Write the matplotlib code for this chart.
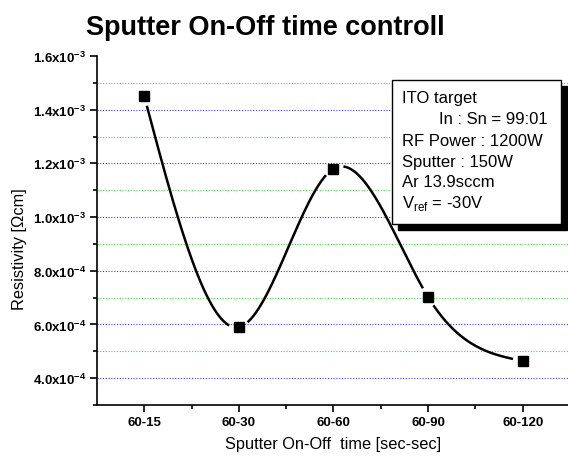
import numpy as np
import matplotlib
matplotlib.use('Agg')
import matplotlib.pyplot as plt
from matplotlib.patches import Rectangle
from matplotlib.ticker import MultipleLocator, FixedLocator

plt.rcParams['font.family'] = ['Liberation Sans', 'DejaVu Sans']
plt.rcParams['mathtext.fontset'] = 'custom'
plt.rcParams['mathtext.rm'] = 'Liberation Sans'
plt.rcParams['mathtext.bf'] = 'Liberation Sans:bold'

# data
categories = ['60-15', '60-30', '60-60', '60-90', '60-120']
resistivity = [1.45e-3, 5.9e-4, 1.18e-3, 7.02e-4, 4.64e-4]
ytick_vals = [4e-4, 6e-4, 8e-4, 1.0e-3, 1.2e-3, 1.4e-3, 1.6e-3]
ytick_labels = [r'$\mathbf{4.0x10^{-4}}$', r'$\mathbf{6.0x10^{-4}}$', r'$\mathbf{8.0x10^{-4}}$',
                r'$\mathbf{1.0x10^{-3}}$', r'$\mathbf{1.2x10^{-3}}$', r'$\mathbf{1.4x10^{-3}}$',
                r'$\mathbf{1.6x10^{-3}}$']
blue_grid = [4e-4, 6e-4, 8e-4, 1.0e-3, 1.2e-3, 1.4e-3]
green_grid = [5e-4, 7e-4, 9e-4, 1.1e-3, 1.3e-3, 1.5e-3]
info_lines = ['ITO target', '        In : Sn = 99:01', 'RF Power : 1200W',
              'Sputter : 150W', 'Ar 13.9sccm', r'V$_{\rm ref}$ = -30V']


def natural_spline(x, y, xs):
    x = np.asarray(x, float)
    y = np.asarray(y, float)
    n = len(x)
    h = np.diff(x)
    A = np.zeros((n, n))
    b = np.zeros(n)
    A[0, 0] = 1
    A[-1, -1] = 1
    for i in range(1, n - 1):
        A[i, i - 1] = h[i - 1]
        A[i, i] = 2 * (h[i - 1] + h[i])
        A[i, i + 1] = h[i]
        b[i] = 3 * ((y[i + 1] - y[i]) / h[i] - (y[i] - y[i - 1]) / h[i - 1])
    c = np.linalg.solve(A, b)
    out = np.empty_like(xs)
    for k, xv in enumerate(xs):
        i = min(max(np.searchsorted(x, xv) - 1, 0), n - 2)
        dx = xv - x[i]
        bi = (y[i + 1] - y[i]) / h[i] - h[i] * (2 * c[i] + c[i + 1]) / 3
        di = (c[i + 1] - c[i]) / (3 * h[i])
        out[k] = y[i] + bi * dx + c[i] * dx ** 2 + di * dx ** 3
    return out


fig = plt.figure(figsize=(5.68, 4.6), dpi=100)
ax = fig.add_axes([97 / 568, 54 / 460, 473 / 568, 349 / 460])

xpos = np.arange(1, len(categories) + 1)
ax.set_xlim(0.5, 5.5)
ax.set_ylim(3e-4, 1.6e-3)

for g in blue_grid:
    ax.axhline(g, color='#4040ff', lw=0.8, ls=(0, (1, 1.5)), zorder=1)
for g in green_grid:
    ax.axhline(g, color='#40e040', lw=0.8, ls=(0, (1, 1.5)), zorder=1)

# smooth line with small gaps near the markers
xs = np.linspace(xpos[0], xpos[-1], 800)
ys = natural_spline(xpos, resistivity, xs)
pts = ax.transData.transform(np.column_stack([xs, ys]))
mk = ax.transData.transform(np.column_stack([xpos, resistivity]))
d = np.min(np.hypot(pts[:, None, 0] - mk[None, :, 0], pts[:, None, 1] - mk[None, :, 1]), axis=1)
ys_plot = np.where(d < 11, np.nan, ys)
ax.plot(xs, ys_plot, color='black', lw=1.8, zorder=3)
ax.plot(xpos, resistivity, 's', color='black', ms=7.5, zorder=4)

ax.spines['top'].set_visible(False)
ax.spines['right'].set_visible(False)
ax.spines['left'].set_linewidth(1.2)
ax.spines['bottom'].set_linewidth(1.2)

ax.set_xticks(xpos)
ax.set_xticklabels(categories, fontweight='bold', fontsize=9.5)
ax.xaxis.set_minor_locator(FixedLocator(xpos[:-1] + 0.5))
ax.set_yticks(ytick_vals)
ax.set_yticklabels(ytick_labels, fontsize=9.5)
ax.yaxis.set_minor_locator(MultipleLocator(1e-4))
ax.tick_params(which='major', direction='out', length=5, width=1.2, pad=3)
ax.tick_params(which='minor', direction='out', length=3, width=1.2)

ax.set_xlabel('Sputter On-Off  time [sec-sec]', fontsize=11.8)
ax.xaxis.set_label_coords(0.5, -43 / 349)
ax.xaxis.label.set_va('baseline')
ax.set_ylabel('Resistivity [\u03a9cm]', fontsize=11.8)
ax.yaxis.set_label_coords((19 - 97) / 473, (460 - 249 - 54) / 349)
ax.yaxis.label.set_va('center')

fig.text(265 / 568, 1 - 35 / 460, 'Sputter On-Off time controll', fontsize=19.5,
         fontweight='bold', ha='center', va='baseline')

# info box with shadow
bx0, by0, bx1, by1 = 392, 81, 561, 225
fig.patches.append(Rectangle(((bx0 + 6) / 568, 1 - (by1 + 6) / 460), (bx1 - bx0) / 568,
                             (by1 - by0) / 460, transform=fig.transFigure,
                             facecolor='black', edgecolor='black', zorder=5))
fig.patches.append(Rectangle((bx0 / 568, 1 - by1 / 460), (bx1 - bx0) / 568,
                             (by1 - by0) / 460, transform=fig.transFigure,
                             facecolor='white', edgecolor='black', lw=1, zorder=6))
for i, line in enumerate(info_lines):
    fig.text(402 / 568, 1 - (103.5 + 21 * i) / 460, line, fontsize=12,
             ha='left', va='baseline', zorder=7)

fig.savefig('out.png', dpi=100)
